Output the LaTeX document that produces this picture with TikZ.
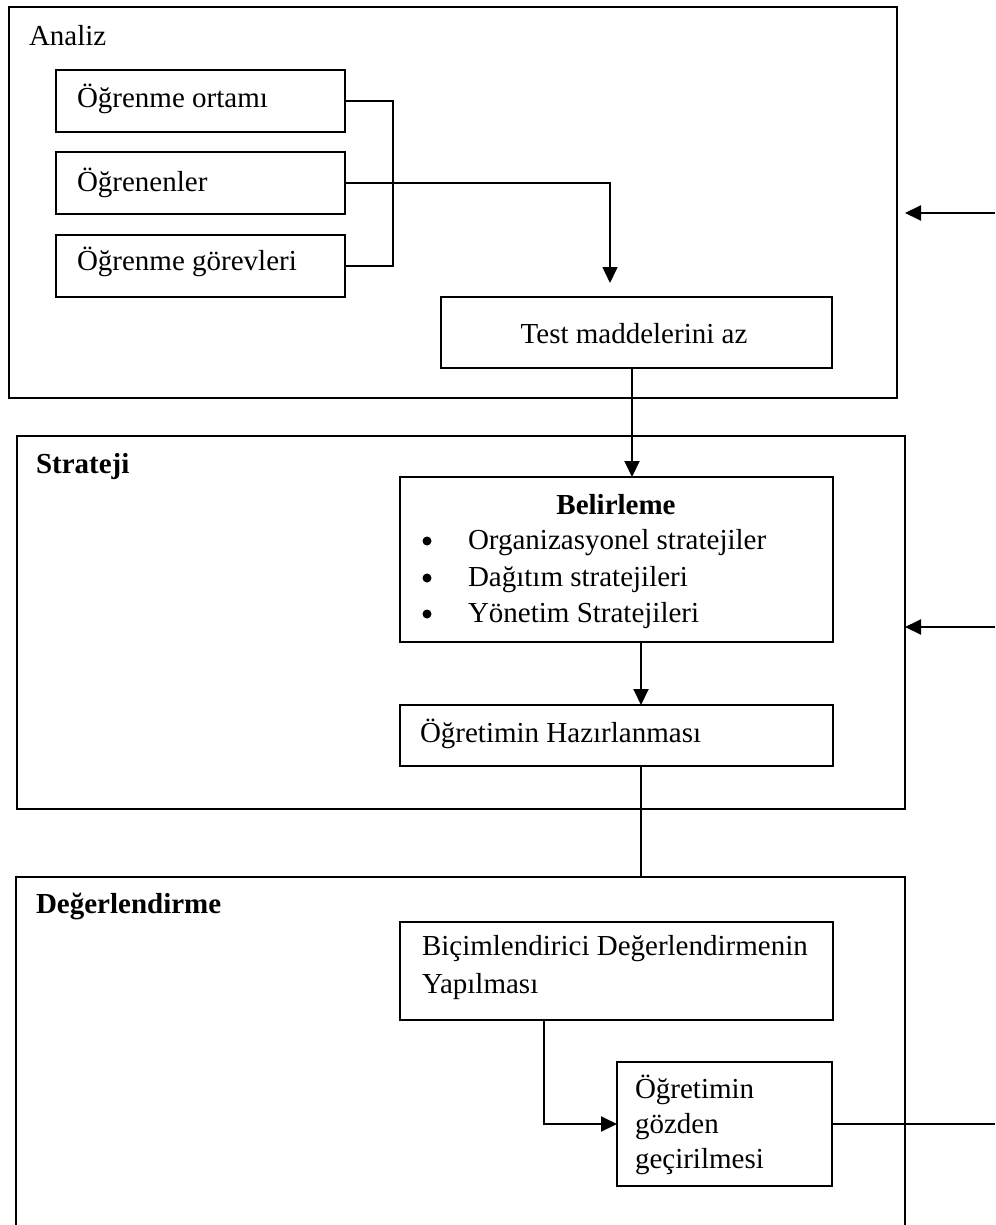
\documentclass[tikz,border=0pt]{standalone}
\usepackage{fontspec}
\setmainfont{Liberation Serif}
\usetikzlibrary{arrows.meta}
\begin{document}
\begin{tikzpicture}[x=1pt,y=-1pt,
  font=\fontsize{29}{35}\selectfont,
  outerbox/.style={draw, line width=2pt, inner sep=0pt, outer sep=0pt, anchor=north west},
  innerbox/.style={draw, line width=2pt, inner sep=0pt, outer sep=0pt, anchor=north west},
  txt/.style={anchor=base west, inner sep=0pt, outer sep=0pt},
  dot/.style={circle, fill, inner sep=0pt, minimum size=9pt},
  link/.style={line width=1.6pt},
  wire/.style={line width=2pt},
  flow/.style={line width=2pt, -{Triangle[length=16pt,width=15pt]}},
  thinflow/.style={line width=1.6pt, -{Triangle[length=16pt,width=15pt]}},
]
\useasboundingbox (0,0) rectangle (995,1225);
\clip (0,0) rectangle (995,1225);

% ---- stage frames ----
\node[outerbox, minimum width=888pt, minimum height=391pt] (analiz) at (9,7) {};
\node[outerbox, minimum width=888pt, minimum height=373pt] (strat) at (17,436) {};
\node[outerbox, minimum width=889pt, minimum height=400pt] (deg) at (16,877) {};

\node[txt] (tAnaliz) at (29,46) {Analiz};
\node[txt] (tStrat) at (36,473) {\textbf{Strateji}};
\node[txt] (tDeg) at (36,913) {\textbf{Değerlendirme}};

% ---- analysis ----
\node[innerbox, minimum width=289pt, minimum height=62pt] (b1) at (56,70) {};
\node[innerbox, minimum width=289pt, minimum height=62pt] (b2) at (56,152) {};
\node[innerbox, minimum width=289pt, minimum height=62pt] (b3) at (56,235) {};
\node[txt] (t1) at (77,108) {Öğrenme ortamı};
\node[txt] (t2) at (77,192) {Öğrenenler};
\node[txt] (t3) at (77,270) {Öğrenme görevleri};

\node[innerbox, minimum width=391pt, minimum height=71pt] (test) at (441,297) {};
\node[anchor=base, inner sep=0pt] (tTest) at (634,343) {Test maddelerini az};

% ---- strategy ----
\node[innerbox, minimum width=433pt, minimum height=165pt] (bel) at (400,477) {};
\node[anchor=base, inner sep=0pt] (tBel) at (616,514) {\textbf{Belirleme}};
\node[dot] (d1) at (427,541) {};
\node[dot] (d2) at (427,578) {};
\node[dot] (d3) at (427,614) {};
\node[txt] (i1) at (468,549) {Organizasyonel stratejiler};
\node[txt] (i2) at (468,586) {Dağıtım stratejileri};
\node[txt] (i3) at (468,622) {Yönetim Stratejileri};

\node[innerbox, minimum width=433pt, minimum height=61pt] (haz) at (400,705) {};
\node[txt] (tHaz) at (420,742) {Öğretimin Hazırlanması};

% ---- evaluation ----
\node[innerbox, minimum width=433pt, minimum height=98pt] (bic) at (400,922) {};
\node[txt] (tBic1) at (422,955) {Biçimlendirici Değerlendirmenin};
\node[txt] (tBic2) at (422,993) {Yapılması};

\node[innerbox, minimum width=215pt, minimum height=124pt] (ogr) at (617,1062) {};
\node[txt] (tO1) at (635,1098) {Öğretimin};
\node[txt] (tO2) at (635,1133) {gözden};
\node[txt] (tO3) at (635,1168) {geçirilmesi};

% ---- connectors ----
\coordinate (bx) at (393,0);
\coordinate (tip) at (610,283);
\coordinate (c1) at (632,0);
\coordinate (c2) at (641,0);
\coordinate (c3) at (544,0);
\coordinate (fb1) at (995,213);
\coordinate (fb2) at (995,627);
\coordinate (fb3) at (995,1124);

\draw[link] (b1.east) -| (bx |- b3.east) -- (b3.east);
\draw[thinflow] (b2.east) -| (tip);
\draw[flow] (c1 |- test.south) -- (c1 |- bel.north);
\draw[flow] (c2 |- bel.south) -- (c2 |- haz.north);
\draw[wire] (c2 |- haz.south) -- (c2 |- deg.north);
\draw[flow] (c3 |- bic.south) |- (ogr.west);
\draw[wire] (ogr.east) -- (fb3);
\draw[flow] (fb1) -- ([xshift=8pt]fb1 -| analiz.east);
\draw[flow] (fb2) -- (fb2 -| strat.east);
\end{tikzpicture}
\end{document}
